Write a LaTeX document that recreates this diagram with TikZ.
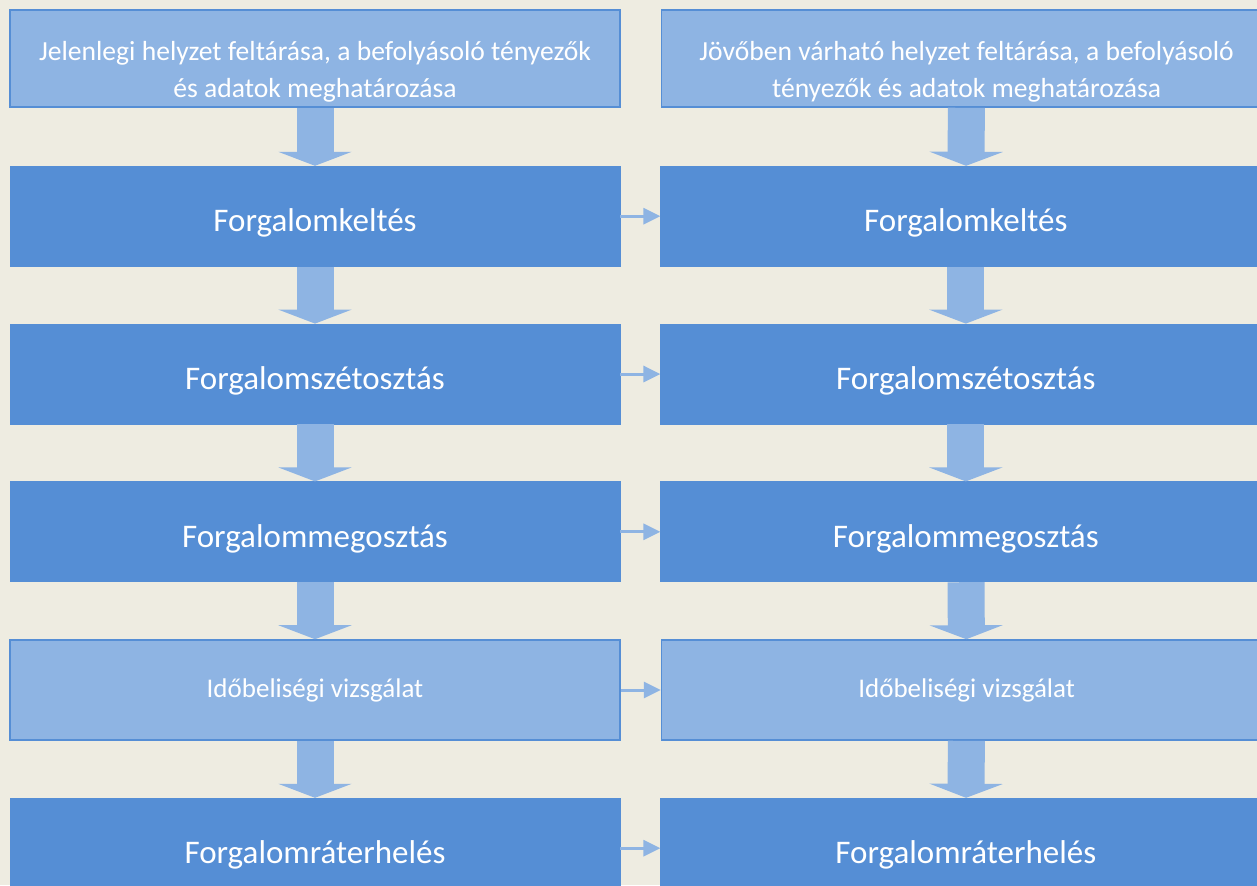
\documentclass[tikz,border=0pt]{standalone}
\usepackage{fontspec}
\setmainfont{Carlito}
\usetikzlibrary{arrows.meta, positioning}
\definecolor{vtan}{HTML}{EEECE1}
\definecolor{vblue}{HTML}{558ED5}
\definecolor{vpale}{HTML}{8EB4E3}
\tikzset{
  box/.style={rectangle, draw=vblue, fill=vblue, text=white, minimum width=305pt,
              minimum height=50pt, inner sep=2pt, align=center, text height=19pt, text depth=3.5pt,
              font=\fontsize{16.5}{20}\selectfont},
  pale/.style={draw=vblue, fill=vpale, line width=0.8pt, text height=10pt, text depth=3pt,
               font=\fontsize{13.5}{18.5}\selectfont},
  headbox/.style={text height=41.5pt, text depth=3pt, font=\fontsize{13.8}{18.5}\selectfont},
  downflow/.style={-{Triangle[length=7pt, width=36.5pt]}, draw=vpale, line width=18.5pt},
  sideflow/.style={-{Triangle[length=8.5pt, width=8pt]}, draw=vpale, line width=1.5pt}
}
\begin{document}
\begin{tikzpicture}[x=0.5pt, y=-0.5pt, node distance=28.5pt and 20pt]
  \useasboundingbox (0,0) rectangle (1257,885);
  \clip (0,0) rectangle (1257,885);
  \fill[vtan] (0,0) rectangle (1257,885);
  \node[box, pale, headbox, minimum height=48.5pt] (nowtop) at (315,58.5) {Jelenlegi helyzet feltárása, a befolyásoló tényezők\\és adatok meghatározása};
  \node[box, pale, headbox, minimum height=48.5pt, right=of nowtop] (futtop) {Jövőben várható helyzet feltárása, a befolyásoló\\tényezők és adatok meghatározása};
  \node[box, below=29pt of nowtop] (nowgen) {Forgalomkeltés};
  \node[box, right=of nowgen] (futgen) {Forgalomkeltés};
  \node[box, below=of nowgen] (nowdist) {Forgalomszétosztás};
  \node[box, right=of nowdist] (futdist) {Forgalomszétosztás};
  \node[box, below=of nowdist] (nowsplit) {Forgalommegosztás};
  \node[box, right=of nowsplit] (futsplit) {Forgalommegosztás};
  \node[box, pale, below=of nowsplit] (nowtime) {Időbeliségi vizsgálat};
  \node[box, pale, right=of nowtime] (futtime) {Időbeliségi vizsgálat};
  \node[box, below=of nowtime] (nowload) {Forgalomráterhelés};
  \node[box, right=of nowload] (futload) {Forgalomráterhelés};
  \draw[downflow] (nowtop)--(nowgen); \draw[downflow] (nowgen)--(nowdist); \draw[downflow] (nowdist)--(nowsplit);
  \draw[downflow] (nowsplit)--(nowtime); \draw[downflow] (nowtime)--(nowload);
  \draw[downflow] (futtop)--(futgen); \draw[downflow] (futgen)--(futdist); \draw[downflow] (futdist)--(futsplit);
  \draw[downflow] (futsplit)--(futtime); \draw[downflow] (futtime)--(futload);
  \draw[sideflow] (nowgen)--(futgen); \draw[sideflow] (nowdist)--(futdist); \draw[sideflow] (nowsplit)--(futsplit);
  \draw[sideflow] (nowtime)--(futtime); \draw[sideflow] (nowload)--(futload);
\end{tikzpicture}
\end{document}
